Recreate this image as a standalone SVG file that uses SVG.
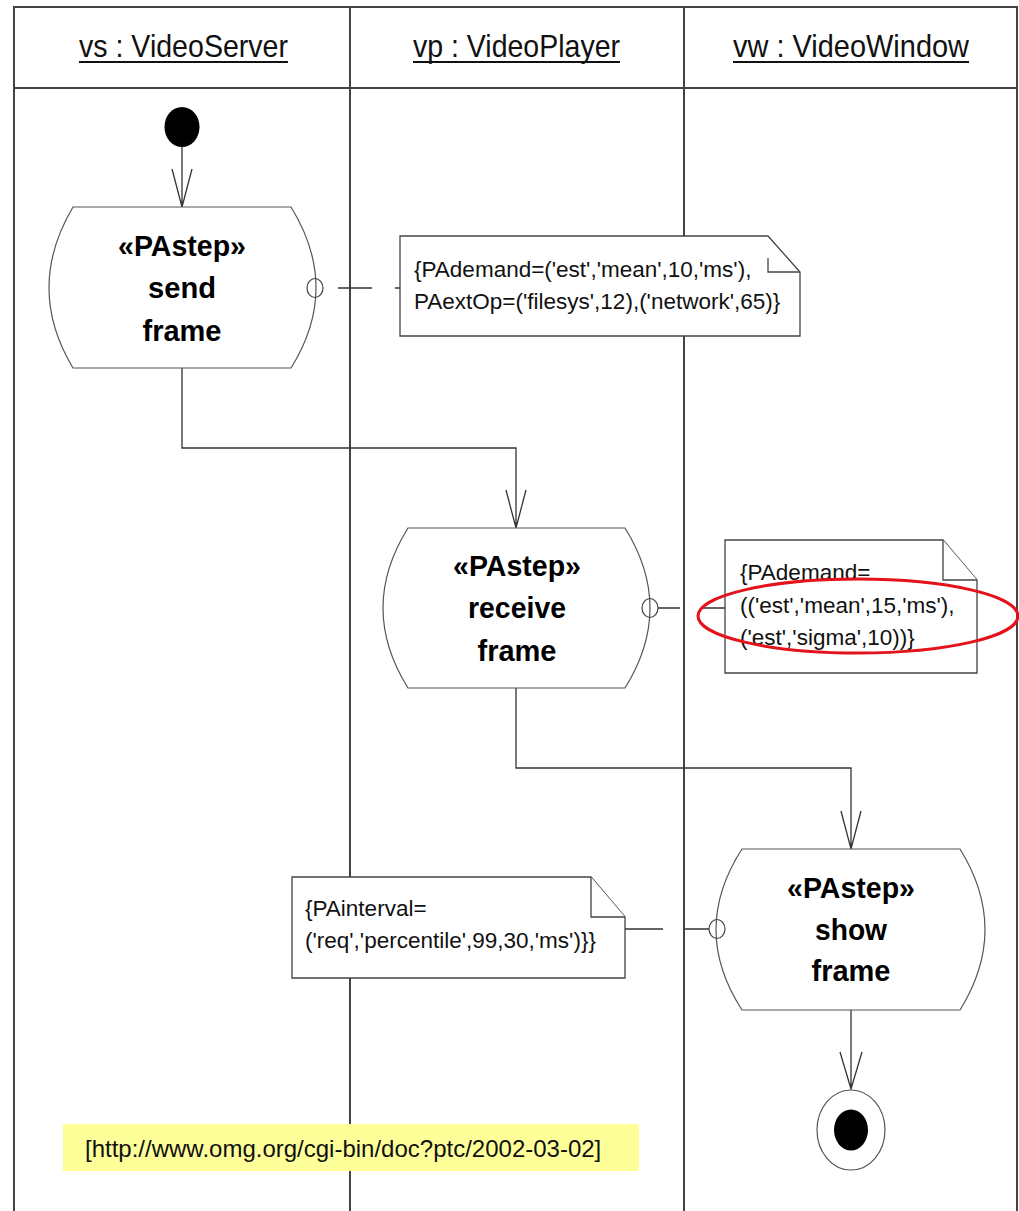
<svg xmlns="http://www.w3.org/2000/svg" width="1019" height="1211" viewBox="0 0 1019 1211">
<style>
.frame{stroke:#444;stroke-width:2;fill:none}
.node{fill:#fff;stroke:#555;stroke-width:1.2}
.conn{stroke:#333;stroke-width:1.3;fill:none}
.note{fill:#fff;stroke:#444;stroke-width:1.3}
.hdr{font-family:"Liberation Sans",Arial,sans-serif;font-size:32px;fill:#111}
.act{font-family:"Liberation Sans",Arial,sans-serif;font-size:30px;font-weight:bold;fill:#000;text-anchor:middle}
.nt{font-family:"Liberation Sans",Arial,sans-serif;font-size:22.5px;fill:#111}
.src{font-family:"Liberation Sans",Arial,sans-serif;font-size:24px;fill:#111}
</style>
<rect width="1019" height="1211" fill="#fff"/>
<g id="swimlanes">
<path class="frame" d="M14,1211 V7 H1017 V1211 M14,88 H1017 M350,7 V1211 M684,7 V1211"/>
<text class="hdr" x="79" y="57" textLength="209" lengthAdjust="spacingAndGlyphs">vs : VideoServer</text>
<line x1="79" y1="62" x2="288" y2="62" stroke="#111" stroke-width="2"/>
<text class="hdr" x="413" y="57" textLength="207" lengthAdjust="spacingAndGlyphs">vp : VideoPlayer</text>
<line x1="413" y1="62" x2="620" y2="62" stroke="#111" stroke-width="2"/>
<text class="hdr" x="733" y="57" textLength="236" lengthAdjust="spacingAndGlyphs">vw : VideoWindow</text>
<line x1="733" y1="62" x2="969" y2="62" stroke="#111" stroke-width="2"/>
</g>
<g id="connectors">
<path class="conn" d="M182,147 V207 M172,169 L182,207 L192,169"/>
<path class="conn" d="M182,368 V448 H516 V528 M506,490 L516,528 L526,490"/>
<path class="conn" d="M516,688 V768 H851 V849 M841,811 L851,849 L861,811"/>
<path class="conn" d="M851,1010 V1089 M840,1052 L851,1089 L862,1052"/>
<path class="conn" d="M338,288 H372 M395,288 H400"/>
<path class="conn" d="M658,608 H680 M701,608 H725"/>
<path class="conn" d="M625,929 H663 M685,929 H709"/>
</g>
<g id="initial">
<ellipse cx="182" cy="127" rx="17.5" ry="20" fill="#000"/>
</g>
<g id="send-frame">
<path class="node" d="M73,207 H291 Q341,288 291,368 H73 Q25,288 73,207 Z"/>
<ellipse cx="315" cy="288" rx="8" ry="9.5" fill="none" stroke="#444" stroke-width="1.2"/>
<text class="act" x="182" y="256" textLength="128" lengthAdjust="spacingAndGlyphs">«PAstep»</text>
<text class="act" x="182" y="298" textLength="68" lengthAdjust="spacingAndGlyphs">send</text>
<text class="act" x="182" y="341" textLength="79" lengthAdjust="spacingAndGlyphs">frame</text>
</g>
<g id="receive-frame">
<path class="node" d="M408,528 H625 Q675,608 625,688 H408 Q358,608 408,528 Z"/>
<ellipse cx="650" cy="608" rx="8" ry="9.5" fill="none" stroke="#444" stroke-width="1.2"/>
<text class="act" x="517" y="576" textLength="128" lengthAdjust="spacingAndGlyphs">«PAstep»</text>
<text class="act" x="517" y="618" textLength="98" lengthAdjust="spacingAndGlyphs">receive</text>
<text class="act" x="517" y="661" textLength="79" lengthAdjust="spacingAndGlyphs">frame</text>
</g>
<g id="show-frame">
<path class="node" d="M742,849 H960 Q1010,929.5 960,1010 H742 Q690,929.5 742,849 Z"/>
<ellipse cx="717" cy="929" rx="8" ry="9.5" fill="none" stroke="#444" stroke-width="1.2"/>
<text class="act" x="851" y="898" textLength="128" lengthAdjust="spacingAndGlyphs">«PAstep»</text>
<text class="act" x="851" y="940" textLength="72" lengthAdjust="spacingAndGlyphs">show</text>
<text class="act" x="851" y="981" textLength="79" lengthAdjust="spacingAndGlyphs">frame</text>
</g>
<g id="final">
<ellipse cx="851" cy="1130" rx="34" ry="40" fill="#fff" stroke="#555" stroke-width="1.2"/>
<ellipse cx="851" cy="1130" rx="17" ry="20.5" fill="#000"/>
</g>
<g id="note-send">
<path class="note" d="M400,236 H768 L800,272 V336 H400 Z"/>
<path class="note" d="M768,258 V272 H800" fill="none"/>
<text class="nt" x="414" y="277">{PAdemand=('est','mean',10,'ms'),</text>
<text class="nt" x="414" y="309">PAextOp=('filesys',12),('network',65)}</text>
</g>
<g id="note-receive">
<path class="note" d="M725,540 H943 L977,580 V673 H725 Z"/>
<path class="note" d="M943,540 V580 H977" fill="none"/>
<text class="nt" x="740" y="580">{PAdemand=</text>
<text class="nt" x="740" y="613">(('est','mean',15,'ms'),</text>
<text class="nt" x="740" y="645">('est','sigma',10))}</text>
</g>
<g id="note-show">
<path class="note" d="M292,877 H591 L625,917 V978 H292 Z"/>
<path class="note" d="M591,877 V917 H625" fill="none"/>
<text class="nt" x="305" y="916">{PAinterval=</text>
<text class="nt" x="305" y="948">('req','percentile',99,30,'ms')}}</text>
</g>
<g id="highlight">
<ellipse cx="858" cy="616" rx="160" ry="37" fill="none" stroke="#e3121b" stroke-width="3"/>
</g>
<g id="source">
<rect x="63" y="1124" width="576" height="47" fill="#ffff99"/>
<text class="src" x="85" y="1157">[http://www.omg.org/cgi-bin/doc?ptc/2002-03-02]</text>
</g>
</svg>
